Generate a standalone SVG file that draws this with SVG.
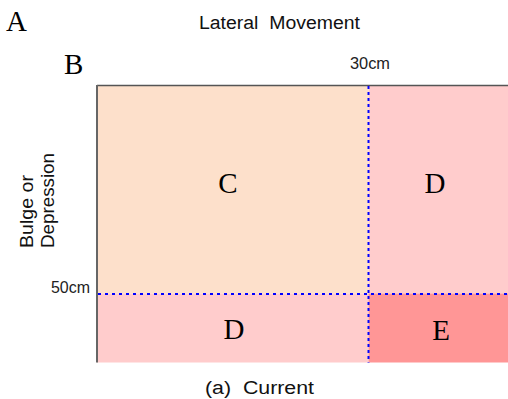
<svg xmlns="http://www.w3.org/2000/svg" width="508" height="399" viewBox="0 0 508 399">
<style>
.lbl{font-family:"Liberation Serif","Times New Roman",serif;font-size:29px;fill:#000;text-anchor:middle}
.cap{font-family:"Liberation Serif","Times New Roman",serif;font-size:29px;fill:#000}
.sans{font-family:"Liberation Sans",Arial,sans-serif;font-size:18px;fill:#111;white-space:pre}
.dim{font-family:"Liberation Sans",Arial,sans-serif;font-size:16px;fill:#222}
.grid{stroke:#0000FF;stroke-width:2;fill:none}
</style>
<rect width="508" height="399" fill="#fff"/>
<text class="cap" x="6" y="31">A</text>
<text class="cap" x="64" y="74">B</text>
<text class="sans" x="199" y="29" textLength="161" lengthAdjust="spacingAndGlyphs">Lateral  Movement</text>
<text class="dim" x="350" y="69" textLength="40" lengthAdjust="spacingAndGlyphs">30cm</text>
<text class="dim" x="51" y="293" textLength="39" lengthAdjust="spacingAndGlyphs">50cm</text>
<g transform="translate(32.5,248) rotate(-90)">
<text class="sans" x="0" y="0" font-size="19" textLength="73" lengthAdjust="spacingAndGlyphs">Bulge or</text>
<text class="sans" x="0" y="21.5" font-size="19" textLength="95" lengthAdjust="spacingAndGlyphs">Depression</text>
</g>
<g id="C"><rect x="97" y="86" width="271.5" height="207.5" fill="#FDE0CB"/><text class="lbl" x="228" y="193">C</text></g>
<g id="D1"><rect x="368.5" y="86" width="139.5" height="207.5" fill="#FFCCCC"/><text class="lbl" x="435" y="193">D</text></g>
<g id="D2"><rect x="97" y="293.5" width="271.5" height="69" fill="#FFCCCC"/><text class="lbl" x="234" y="339">D</text></g>
<g id="E"><rect x="368.5" y="293.5" width="139.5" height="69" fill="#FF9696"/><text class="lbl" x="441" y="340">E</text></g>
<g id="frame">
<line x1="97" y1="85.5" x2="508" y2="85.5" stroke="#555" stroke-width="1.5"/>
<line x1="97" y1="85" x2="97" y2="362.5" stroke="#666" stroke-width="2"/>
</g>
<g id="connectors">
<line class="grid" x1="368.5" y1="86" x2="368.5" y2="362.5" stroke-dasharray="3 3"/>
<line class="grid" x1="98" y1="294" x2="508" y2="294" stroke-dasharray="3 4"/>
</g>
<text class="sans" x="205" y="394" textLength="109" lengthAdjust="spacingAndGlyphs">(a)  Current</text>
</svg>
